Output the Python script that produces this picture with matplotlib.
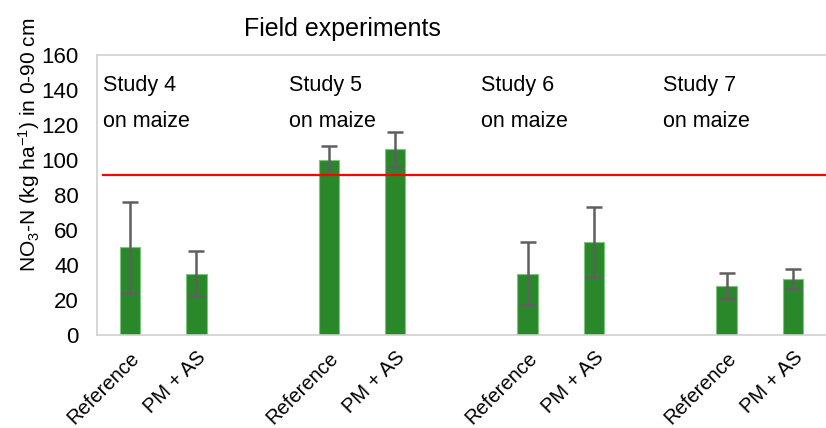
import numpy as np
import matplotlib.pyplot as plt
import matplotlib.transforms as mtransforms

plt.rcParams['font.family'] = ['Liberation Sans', 'DejaVu Sans']
plt.rcParams['mathtext.fontset'] = 'custom'
plt.rcParams['mathtext.rm'] = 'Liberation Sans'
plt.rcParams['mathtext.it'] = 'Liberation Sans:italic'

labels = ["Reference", "PM + AS", "", "Reference", "PM + AS", "",
          "Reference", "PM + AS", "", "Reference", "PM + AS"]
values = [50, 35, np.nan, 100, 106, np.nan, 35, 53, np.nan, 28, 32]
errors = [26, 13, np.nan, 8, 10, np.nan, 18, 20, np.nan, 7.5, 5.5]
studies = ["Study 4", "Study 5", "Study 6", "Study 7"]
study_x = [-0.41, 2.4, 5.29, 8.04]
threshold = 91.5

x = np.arange(len(labels))

fig = plt.figure(figsize=(8.26, 4.28), dpi=100)
ax = fig.add_axes([0.1174, 0.2173, 0.8826, 0.6542])

ax.bar(x, values, width=0.31, color="#2a882a", edgecolor="#7fc47f", linewidth=0.8)
ax.errorbar(x, values, yerr=errors, fmt="none", ecolor="#5f5f5f",
            elinewidth=1.8, capsize=6, capthick=1.8)
ax.axhline(threshold, color="#ff0000", linewidth=1.6, xmin=0.008)

ax.set_xlim(-0.5, len(labels) - 0.5)
ax.set_ylim(0, 160)
ax.set_yticks(np.arange(0, 161, 20))

for name, sx in zip(studies, study_x):
    ax.text(sx, 142.5, name, fontsize=15.5, va="center", ha="left")
    ax.text(sx, 122, "on maize", fontsize=15.5, va="center", ha="left")

ax.set_xticks(x)
ax.set_xticklabels(labels, rotation=45, ha="right", rotation_mode="anchor", fontsize=14.5)
shift = mtransforms.ScaledTranslation(-10 / 72, 0, fig.dpi_scale_trans)
for lab in ax.get_xticklabels():
    lab.set_transform(lab.get_transform() + shift)
ax.tick_params(axis="both", length=0)
ax.tick_params(axis="y", labelsize=16, pad=13)
ax.tick_params(axis="x", pad=9.5)

for s in ["left", "top", "bottom"]:
    ax.spines[s].set_color("#d0d0d0")
    ax.spines[s].set_linewidth(1.2)
ax.spines["right"].set_visible(False)

ax.set_ylabel(r"NO$_\mathregular{3}$-N (kg ha$^\mathregular{-1}$) in 0-90 cm", fontsize=15)
ax.yaxis.set_label_coords(-0.076, 0.68)
fig.text(0.414, 0.932, "Field experiments", fontsize=18, ha="center", va="center")

fig.savefig("out.png", dpi=100)
